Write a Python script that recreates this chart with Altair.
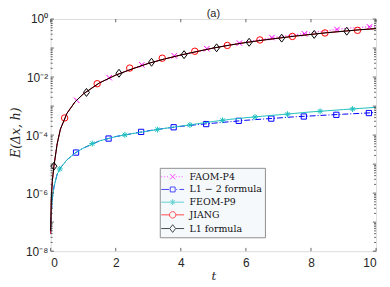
import altair as alt
import pandas as pd

# ---------------- data ----------------
t_line = [0, 0.02, 0.05, 0.1, 0.2, 0.3, 0.5, 0.75, 1, 1.5, 2, 2.5, 3, 3.5, 4,
          4.5, 5, 5.5, 6, 6.5, 7, 7.5, 8, 8.5, 9, 9.5, 10]

faom_line = [5.0e-8, 6.3e-7, 2.5e-6, 8.5e-6, 5.0e-5, 1.6e-4, 5.6e-4, 1.4e-3, 2.6e-3,
             6.3e-3, 1.17e-2, 1.9e-2, 2.95e-2, 4.2e-2, 5.75e-2, 7.6e-2, 0.1,
             0.129, 0.162, 0.2, 0.245, 0.288, 0.339, 0.398, 0.468, 0.513, 0.575]
l12_line = [4.0e-8, 2.0e-7, 6.3e-7, 1.6e-6, 4.5e-6, 7.4e-6, 1.4e-5, 2.4e-5, 3.55e-5,
            6.3e-5, 8.9e-5, 1.12e-4, 1.41e-4, 1.7e-4, 2.0e-4, 2.29e-4, 2.57e-4,
            2.88e-4, 3.24e-4, 3.55e-4, 3.89e-4, 4.27e-4, 4.57e-4, 4.9e-4, 5.25e-4,
            5.6e-4, 6.0e-4]
feom_line = [4.0e-8, 2.0e-7, 6.3e-7, 1.6e-6, 4.5e-6, 7.4e-6, 1.4e-5, 2.4e-5, 3.55e-5,
             6.3e-5, 8.9e-5, 1.12e-4, 1.38e-4, 1.7e-4, 2.04e-4, 2.45e-4, 2.95e-4,
             3.47e-4, 3.98e-4, 4.47e-4, 5.0e-4, 5.6e-4, 6.3e-4, 6.9e-4, 7.6e-4,
             8.3e-4, 9.1e-4]
jiang_line = [4.0e-8, 6.0e-7, 2.5e-6, 8.5e-6, 5.0e-5, 1.6e-4, 5.6e-4, 1.4e-3, 2.6e-3,
              6.3e-3, 1.17e-2, 1.9e-2, 2.95e-2, 4.2e-2, 5.75e-2, 7.6e-2, 0.1,
              0.126, 0.155, 0.186, 0.219, 0.257, 0.295, 0.339, 0.38, 0.427, 0.468]
l1_line = [5.0e-8, 6.3e-7, 2.5e-6, 8.5e-6, 5.0e-5, 1.6e-4, 5.6e-4, 1.4e-3, 2.6e-3,
           6.3e-3, 1.17e-2, 1.9e-2, 2.95e-2, 4.2e-2, 5.75e-2, 7.6e-2, 0.1,
           0.126, 0.155, 0.186, 0.219, 0.257, 0.295, 0.339, 0.38, 0.427, 0.468]

faom_mk_t = [0.8, 1.8, 2.8, 3.8, 4.8, 5.8, 6.8, 7.8, 8.8, 9.8]
faom_mk = [1.58e-3, 9.5e-3, 2.63e-2, 5.37e-2, 9.5e-2, 0.148, 0.229, 0.309, 0.437, 0.537]
l12_mk_t = [0.78, 1.78, 2.78, 3.78, 4.78, 5.78, 6.78, 7.78, 8.78, 9.78]
l12_mk = [2.5e-5, 7.6e-5, 1.29e-4, 1.86e-4, 2.4e-4, 3.1e-4, 3.7e-4, 4.37e-4, 5.0e-4, 5.75e-4]
feom_mk_t = [0.28, 1.28, 2.28, 3.28, 4.28, 5.28, 6.28, 7.28, 8.28, 9.28]
feom_mk = [6.8e-6, 5.1e-5, 1.02e-4, 1.55e-4, 2.24e-4, 3.24e-4, 4.17e-4, 5.25e-4, 6.6e-4, 7.9e-4]
jiang_mk_t = [0.43, 1.43, 2.43, 3.43, 4.43, 5.43, 6.43, 7.43, 8.43, 9.43]
jiang_mk = [3.9e-4, 5.9e-3, 2.04e-2, 4.47e-2, 7.76e-2, 0.123, 0.19, 0.251, 0.331, 0.407]
l1_mk_t = [0.1, 1.1, 2.1, 3.1, 4.1, 5.1, 6.1, 7.1, 8.1, 9.1]
l1_mk = [8.5e-6, 2.95e-3, 1.35e-2, 3.24e-2, 5.9e-2, 0.102, 0.158, 0.219, 0.295, 0.38]

names = ["FAOM-P4", "L1 \u2212 2 formula", "FEOM-P9", "JIANG", "L1 formula"]
colors = ["#ff00ff", "#0000ff", "#1fbfbf", "#ff0000", "#000000"]

x_tick_vals = [0, 2, 4, 6, 8, 10]
y_label_vals = [1e-8, 1e-6, 1e-4, 1e-2, 1]
y_major = [10.0 ** e for e in range(-8, 1)]
y_minor = [k * 10.0 ** e for e in range(-8, 0) for k in range(2, 10)]

# ---------------- styling ----------------
W, H = 328, 234
AX = "#262626"
xs = alt.Scale(domain=[0, 10], nice=False, zero=False)
ys = alt.Scale(type="log", domain=[1e-8, 1], nice=False)

xaxis = alt.Axis(values=x_tick_vals, format="d", ticks=False, domain=False, grid=False,
                 labelFont="Liberation Sans", labelFontSize=12, labelColor=AX,
                 labelPadding=6, title="t", titleFont="DejaVu Serif",
                 titleFontStyle="italic", titleFontWeight="normal", titleFontSize=12,
                 titleColor=AX, titleX=W / 2, titleY=25, titleBaseline="middle",
                 titleAlign="center")
yaxis = alt.Axis(values=y_label_vals, ticks=False, domain=False, grid=False,
                 labelFont="Liberation Sans", labelFontSize=12, labelColor=AX,
                 labelPadding=3,
                 labelExpr="datum.value >= 0.5 ? '10\u2070' : datum.value >= 0.001 ? '10\u207b\u00b2' : datum.value >= 0.00001 ? '10\u207b\u2074' : datum.value >= 0.0000001 ? '10\u207b\u2076' : '10\u207b\u2078'",
                 title="E(\u0394x, h)", titleFont="DejaVu Serif", titleFontStyle="italic",
                 titleFontWeight="normal", titleFontSize=12.5, titleColor=AX,
                 titleX=-35, titleY=H / 2 - 3, titleAngle=-90, titleAlign="center",
                 titleBaseline="middle")

X = lambda f: alt.X(f, type="quantitative", scale=xs, axis=xaxis)
Y = lambda f: alt.Y(f, type="quantitative", scale=ys, axis=yaxis)

mk_x = "M-1,-1L1,1M-1,1L1,-1"
mk_ast = "M-1,0H1M0,-1V1M-0.7,-0.7L0.7,0.7M-0.7,0.7L0.7,-0.7"
mk_dia = "M0,-1L0.75,0L0,1L-0.75,0Z"

series = [
    (faom_line, faom_mk_t, faom_mk, colors[0], [1, 2], mk_x, 30),
    (l12_line, l12_mk_t, l12_mk, colors[1], [6, 2, 1, 2], "square", 28),
    (feom_line, feom_mk_t, feom_mk, colors[2], None, mk_ast, 36),
    (jiang_line, jiang_mk_t, jiang_mk, colors[3], None, "circle", 42),
    (l1_line, l1_mk_t, l1_mk, colors[4], None, mk_dia, 64),
]

layers = []
for vals, mt, mv, col, dash, shp, sz in series:
    line_kw = dict(color=col, strokeWidth=1)
    if dash:
        line_kw["strokeDash"] = dash
    layers.append(alt.Chart(pd.DataFrame({"t": t_line, "E": vals}))
                  .mark_line(**line_kw).encode(x=X("t"), y=Y("E")))
    layers.append(alt.Chart(pd.DataFrame({"t": mt, "E": mv}))
                  .mark_point(shape=shp, size=sz, filled=False, color=col, strokeWidth=1,
                              opacity=1)
                  .encode(x=X("t"), y=Y("E")))

# inward ticks on all four sides
ymaj = pd.DataFrame({"v": y_major})
ymin = pd.DataFrame({"v": y_minor})
xmaj = pd.DataFrame({"v": x_tick_vals})
for df, ln in ((ymaj, 3.3), (ymin, 2)):
    layers.append(alt.Chart(df).mark_rule(color=AX, strokeWidth=0.7)
                  .encode(y=Y("v"), x=alt.value(0), x2=alt.value(ln)))
    layers.append(alt.Chart(df).mark_rule(color=AX, strokeWidth=0.7)
                  .encode(y=Y("v"), x=alt.value(W), x2=alt.value(W - ln)))
layers.append(alt.Chart(xmaj).mark_rule(color=AX, strokeWidth=0.7)
              .encode(x=X("v"), y=alt.value(H), y2=alt.value(H - 3.3)))
layers.append(alt.Chart(xmaj).mark_rule(color=AX, strokeWidth=0.7)
              .encode(x=X("v"), y=alt.value(0), y2=alt.value(3.3)))

# legend layer (no visible marks; drives the legend only)
leg_paths = [
    "M-1.77,0h0.15M-1.32,0h0.15M-0.87,0h0.15M0.48,0h0.15M0.93,0h0.15M1.38,0h0.15"
    "M-0.4,-0.4L0.4,0.4M-0.4,0.4L0.4,-0.4",
    "M-1.77,0H-0.55M0.55,0H0.72M1.05,0H1.77M-0.38,-0.38H0.38V0.38H-0.38Z",
    "M-1.77,0H1.77M0,-0.45V0.45M-0.32,-0.32L0.32,0.32M-0.32,0.32L0.32,-0.32",
    "M-1.77,0H-0.5M0.5,0H1.77M-0.5,0A0.5,0.5 0 1,0 0.5,0A0.5,0.5 0 1,0 -0.5,0",
    "M-1.77,0H-0.45M0.45,0H1.77M0,-0.6L0.45,0L0,0.6L-0.45,0Z",
]
leg = alt.Legend(title=None, orient="none", legendX=110, legendY=150, padding=2,
                 fillColor="#f6f9fc", strokeColor="#8f8f8f", cornerRadius=0,
                 labelFont="DejaVu Serif", labelFontSize=9.5, labelColor="#111111",
                 labelLimit=200, symbolSize=169, symbolOffset=4, labelOffset=10,
                 rowPadding=0.8, symbolStrokeWidth=1)
leg_df = pd.DataFrame({"series": names, "t": [1] * 5, "E": [1e-3] * 5})
layers.append(alt.Chart(leg_df).transform_filter("false")
              .mark_point(filled=False, strokeWidth=1)
              .encode(x=X("t"), y=Y("E"),
                      color=alt.Color("series:N", scale=alt.Scale(domain=names, range=colors),
                                      legend=leg),
                      shape=alt.Shape("series:N", scale=alt.Scale(domain=names, range=leg_paths),
                                      legend=leg)))

chart = (alt.layer(*layers)
         .properties(width=W, height=H,
                     title=alt.TitleParams("(a)", font="Liberation Sans", fontSize=11,
                                           fontWeight="normal", color=AX, anchor="middle",
                                           offset=1, dy=7),
                     padding={"left": 43, "top": 10, "right": 6, "bottom": 34},
                     autosize=alt.AutoSizeParams(type="none"))
         .configure_view(stroke=AX, strokeWidth=1)
         .configure(background="white"))

chart.save("out.html", embed_options={"renderer": "svg", "actions": False})
